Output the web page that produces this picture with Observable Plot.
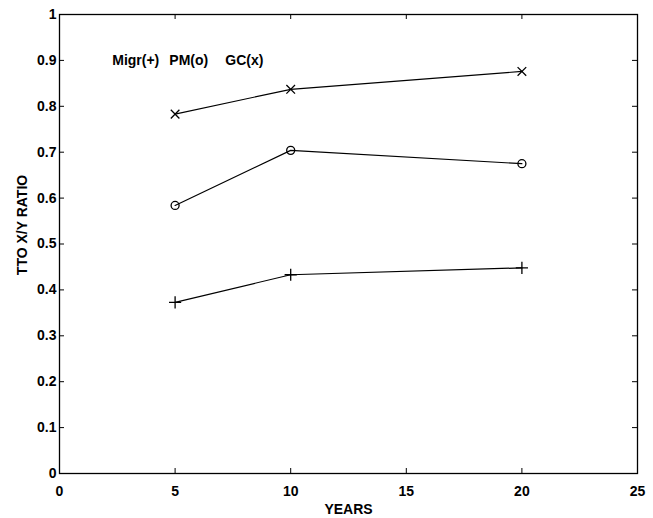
<!DOCTYPE html>
<html>
<head>
<meta charset="utf-8">
<script src="https://cdn.jsdelivr.net/npm/d3@7"></script>
<script src="https://cdn.jsdelivr.net/npm/@observablehq/plot@0.6"></script>
<style>
  html, body { margin: 0; padding: 0; background: #fff; }
  svg { display: block; }
</style>
</head>
<body>
<div id="chart"></div>
<script>
const years = [5, 10, 20];
const migr = [0.373, 0.433, 0.448];
const pm = [0.584, 0.704, 0.675];
const gc = [0.783, 0.837, 0.876];
const seriesNames = ["Migr", "PM", "GC"];
const seriesSymbols = ["plus", "circle", "times"];
const xTicks = [0, 5, 10, 15, 20, 25];
const yTicks = [0, 0.1, 0.2, 0.3, 0.4, 0.5, 0.6, 0.7, 0.8, 0.9, 1];
const legendLabels = ["Migr(+)", "PM(o)", "GC(x)"];
const legendX = [2.28, 4.75, 7.17];
const legendY = 0.9;

const seriesValues = [migr, pm, gc];
const rows = [];
seriesNames.forEach((s, i) => years.forEach((yr, j) => rows.push({series: s, symbol: seriesSymbols[i], year: yr, value: seriesValues[i][j]})));
const legendRows = legendLabels.map((t, i) => ({text: t, x: legendX[i], y: legendY}));

const font = "'Liberation Sans', Arial, Helvetica, sans-serif";
const narrowFont = "'Liberation Sans Narrow', 'Arial Narrow', 'Liberation Sans', sans-serif";
const tx = 25 * 5 / 578;   // tick length in x data units (~5px)
const ty = 1 * 5 / 459;    // tick length in y data units (~5px)

const chart = Plot.plot({
  width: 653,
  height: 518,
  marginLeft: 59,
  marginRight: 16,
  marginTop: 14,
  marginBottom: 45,
  style: {fontFamily: font, fontSize: "13px", color: "#000", background: "#fff"},
  x: {domain: [0, 25], ticks: xTicks, label: null},
  y: {domain: [0, 1], ticks: yTicks, label: null},
  marks: [
    Plot.frame({stroke: "#000", strokeWidth: 1.3}),
    Plot.axisX({ticks: xTicks, tickSize: 0, tickPadding: 13, fontSize: 14, fontWeight: "bold", label: null}),
    Plot.axisY({ticks: yTicks, tickSize: 0, tickPadding: 3, fontSize: 14, fontWeight: "bold", label: null, tickFormat: d => String(+d.toFixed(1))}),
    Plot.ruleX(xTicks.slice(1, -1), {x: d => d, y1: 0, y2: ty, stroke: "#000"}),
    Plot.ruleX(xTicks.slice(1, -1), {x: d => d, y1: 1, y2: 1 - ty, stroke: "#000"}),
    Plot.ruleY(yTicks.slice(1, -1), {y: d => d, x1: 0, x2: tx, stroke: "#000"}),
    Plot.ruleY(yTicks.slice(1, -1), {y: d => d, x1: 25, x2: 25 - tx, stroke: "#000"}),
    Plot.line(rows, {x: "year", y: "value", z: "series", stroke: "#000", strokeWidth: 1.2}),
    Plot.dot(rows, {x: "year", y: "value", symbol: "symbol", r: 4, stroke: "#000", fill: "none", strokeWidth: 1.3}),
    Plot.text(legendRows, {x: "x", y: "y", text: "text", textAnchor: "start", fontSize: 14, fontWeight: "bold", fill: "#000"}),
    Plot.text(["YEARS"], {frameAnchor: "bottom", dy: 40, text: d => d, fontSize: 14, fontWeight: "bold", fill: "#000"}),
    Plot.text(["TTO X/Y RATIO"], {frameAnchor: "left", textAnchor: "middle", dx: -37, dy: -19, rotate: -90, text: d => d, fontFamily: narrowFont, fontSize: 14, fontWeight: "bold", fill: "#000"})
  ]
});
document.getElementById("chart").appendChild(chart);
</script>
</body>
</html>
